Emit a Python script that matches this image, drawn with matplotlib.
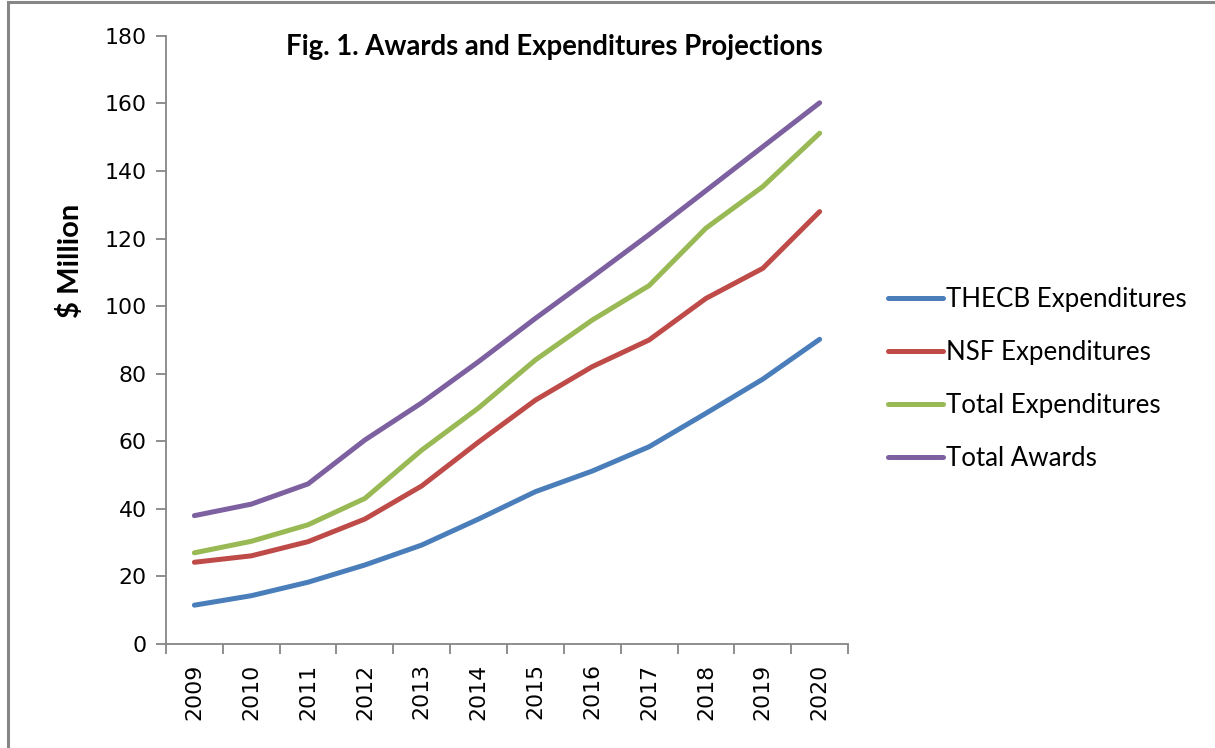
import numpy as np
import matplotlib
matplotlib.use("Agg")
import matplotlib.pyplot as plt
from matplotlib.patches import Rectangle

# data
years = ['2009', '2010', '2011', '2012', '2013', '2014',
         '2015', '2016', '2017', '2018', '2019', '2020']
thecb = [11.5, 14.3, 18.3, 23.4, 29.3, 37.0, 45.1, 51.2, 58.4, 68.3, 78.4, 90.2]
nsf = [24.2, 26.1, 30.3, 37.0, 46.8, 59.8, 72.2, 82.1, 90.0, 102.3, 111.2, 128.0]
total_exp = [27.0, 30.4, 35.3, 43.1, 57.4, 69.9, 84.1, 95.9, 106.1, 123.1, 135.4, 151.2]
total_awards = [38.0, 41.4, 47.4, 60.4, 71.4, 83.6, 96.4, 108.7, 121.2, 134.2, 147.2, 160.2]

series = [('THECB Expenditures', thecb, '#4A7EBB'),
          ('NSF Expenditures', nsf, '#BE4B48'),
          ('Total Expenditures', total_exp, '#98B954'),
          ('Total Awards', total_awards, '#7D60A0')]

grey = '#868686'
calibri_like = 'Lato'

fig = plt.figure(figsize=(12.15, 7.48), dpi=100)
ax = fig.add_axes([0.1366, 0.139, 0.5614, 0.813])

x = np.arange(len(years))
for name, vals, col in series:
    ax.plot(x, vals, color=col, lw=3.6, label=name, solid_capstyle='round',
            solid_joinstyle='round')

ax.set_xlim(-0.5, len(years) - 0.5)
ax.set_ylim(0, 180)
ax.set_yticks(range(0, 181, 20))
ax.set_xticks(x)
ax.set_xticklabels(years, rotation=90)
ax.set_xticks(np.arange(-0.5, len(years), 1), minor=True)
ax.tick_params(axis='x', which='major', length=0, pad=14, labelsize=15.8)
ax.tick_params(axis='x', which='minor', length=7, width=1.3, color=grey)
ax.tick_params(axis='y', length=7, width=1.3, color=grey, labelsize=15.8, pad=7)

for s in ['top', 'right']:
    ax.spines[s].set_visible(False)
for s in ['left', 'bottom']:
    ax.spines[s].set_color(grey)
    ax.spines[s].set_linewidth(1.3)

# y label sits above the middle of the axis, as in the reference
fig.text(0.058, 1 - 261 / 748, '$ Million', rotation=90, ha='center', va='center',
         fontsize=21, fontweight='bold', family=calibri_like)
ax.text(0.570, 0.982, 'Fig. 1. Awards and Expenditures Projections', transform=ax.transAxes,
        ha='center', va='center', fontsize=19.8, fontweight='bold', family=calibri_like)

leg = fig.legend(loc='center left', bbox_to_anchor=(0.712, 0.493), frameon=False,
                 prop={'family': calibri_like, 'size': 18.6}, handlelength=2.1,
                 handletextpad=0.15, labelspacing=1.08)

# outer chart border (cut off at right and bottom in the reference)
fig.patches.append(Rectangle((0.0068, -0.05), 1.1, 1.047, transform=fig.transFigure,
                             fill=False, edgecolor=grey, lw=2.2))

fig.savefig('out.png', dpi=100)
